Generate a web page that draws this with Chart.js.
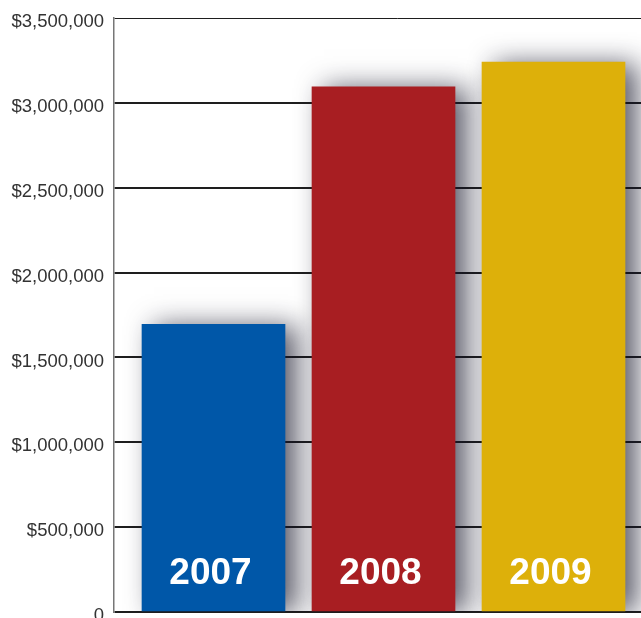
<!DOCTYPE html>
<html>
<head>
<meta charset="utf-8">
<script src="https://cdn.jsdelivr.net/npm/chart.js@4/dist/chart.umd.min.js"></script>
<style>
html,body{margin:0;padding:0;background:#fff;overflow:hidden;width:641px;height:618px;}
#wrap{position:absolute;left:0;top:-10px;width:680px;height:650px;}
</style>
</head>
<body>
<div id="wrap"><canvas id="c" width="680" height="650"></canvas></div>
<script>
const categories = ['2007', '2008', '2009'];
const revenue = [1695000, 3095000, 3240000];
const barColors = ['#0057A8', '#A81E22', '#DDB00A'];
const yTicks = [0, 500000, 1000000, 1500000, 2000000, 2500000, 3000000, 3500000];

const shadowPlugin = {
  id: 'barShadow',
  beforeDatasetsDraw(chart) {
    const ctx = chart.ctx;
    ctx.save();
    ctx.shadowColor = 'rgba(20,20,40,0.7)';
    ctx.shadowBlur = 26;
    ctx.shadowOffsetX = 12;
    ctx.shadowOffsetY = 2;
  },
  afterDatasetsDraw(chart) {
    const ctx = chart.ctx;
    ctx.restore();
    const meta = chart.getDatasetMeta(0);
    ctx.save();
    ctx.fillStyle = '#ffffff';
    ctx.font = 'bold 37px "Liberation Sans", Arial, sans-serif';
    ctx.textAlign = 'center';
    ctx.textBaseline = 'alphabetic';
    meta.data.forEach((bar, i) => {
      ctx.fillText(categories[i], bar.x - 3, chart.chartArea.bottom - 28);
    });
    ctx.restore();
  }
};

new Chart(document.getElementById('c'), {
  type: 'bar',
  data: {
    datasets: [{
      data: categories.map((c, i) => ({x: i + 1, y: revenue[i]})),
      backgroundColor: barColors,
      borderWidth: 0,
      barThickness: 143
    }]
  },
  options: {
    responsive: false,
    animation: false,
    layout: {padding: {top: 28, bottom: 28, left: 0, right: 0}},
    plugins: {legend: {display: false}, tooltip: {enabled: false}},
    scales: {
      x: {
        type: 'linear',
        display: false,
        offset: false,
        min: 1 - 99.5 / 170,
        max: 1 - 99.5 / 170 + 566 / 170
      },
      y: {
        min: 0,
        max: 3500000,
        afterFit(scale) { scale.width = 114; },
        afterBuildTicks(scale) { scale.ticks = yTicks.map(v => ({value: v})); },
        border: {display: true, color: '#777', width: 1.5},
        grid: {
          drawTicks: false,
          color: '#1e1e1e',
          lineWidth: ctx => (ctx.tick && ctx.tick.value === 3500000) ? 1 : 2
        },
        ticks: {
          padding: 10,
          labelOffset: 4,
          color: '#333',
          font: {family: '"Liberation Sans", Arial, sans-serif', size: 18.5},
          callback: v => v === 0 ? '0' : '$' + v.toLocaleString('en-US')
        }
      }
    }
  },
  plugins: [shadowPlugin]
});
</script>
</body>
</html>
